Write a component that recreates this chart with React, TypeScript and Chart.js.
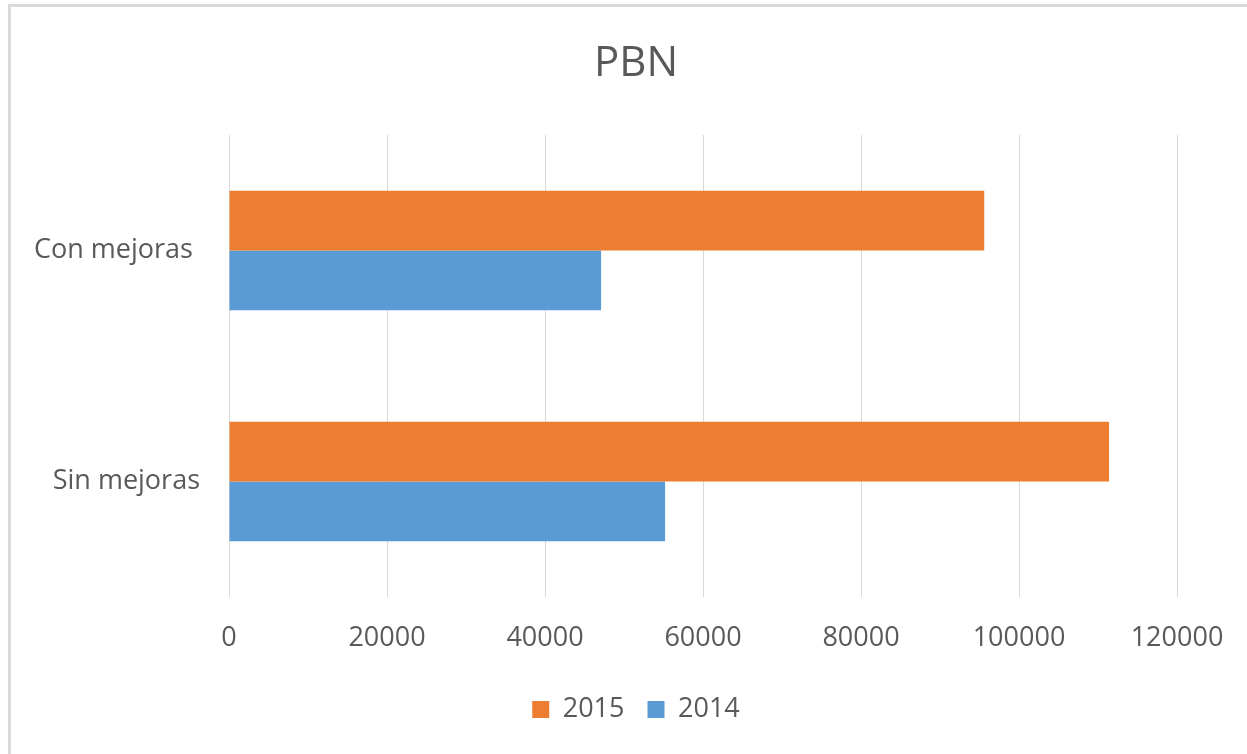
import React, { useEffect, useRef } from "react";
import { Chart, registerables } from "chart.js";

Chart.register(...registerables);

const categories = ["Con mejoras ", "Sin mejoras"];
const series2015 = [95600, 111400];
const series2014 = [47100, 55200];
const seriesNames = ["2015", "2014"];
const xTicks = [0, 20000, 40000, 60000, 80000, 100000, 120000];

const FONT = "'Open Sans', 'Segoe UI', sans-serif";
const TEXT = "#595959";
const GRID = "#d9d9d9";

export default function App() {
  const ref = useRef<HTMLCanvasElement | null>(null);

  useEffect(() => {
    if (!ref.current) return;
    const chart = new Chart(ref.current, {
      type: "bar",
      data: {
        labels: categories,
        datasets: [
          {
            label: seriesNames[0],
            data: series2015,
            backgroundColor: "#ED7D31",
            borderWidth: 0,
          },
          {
            label: seriesNames[1],
            data: series2014,
            backgroundColor: "#5B9BD5",
            borderWidth: 0,
          },
        ],
      },
      options: {
        indexAxis: "y",
        responsive: false,
        animation: false,
        datasets: {
          bar: { categoryPercentage: 0.518, barPercentage: 1 },
        },
        layout: { padding: { top: 12, right: 0, bottom: 21, left: 25 } },
        plugins: {
          title: {
            display: true,
            text: "PBN",
            color: TEXT,
            font: { family: FONT, size: 42, weight: "normal" },
            padding: { top: 27, bottom: 45.6 },
          },
          legend: {
            display: true,
            position: "bottom",
            labels: {
              color: TEXT,
              font: { family: FONT, size: 27 },
              boxWidth: 17,
              boxHeight: 17,
              padding: 23,
            },
          },
          tooltip: { enabled: false },
        },
        scales: {
          x: {
            min: 0,
            max: 120000,
            afterBuildTicks: (s: any) => {
              s.ticks = xTicks.map((v) => ({ value: v }));
            },
            afterFit: (s: any) => {
              s.height = 76;
              s.paddingRight = 70;
              s.paddingLeft = 0;
            },
            ticks: {
              color: TEXT,
              font: { family: FONT, size: 27 },
              padding: 25,
              maxRotation: 0,
              autoSkip: false,
              callback: (v: any) => String(v),
            },
            grid: { color: GRID, lineWidth: 1, drawTicks: false },
            border: { display: false },
          },
          y: {
            afterFit: (s: any) => {
              s.width = 204;
              s.paddingTop = 0;
              s.paddingBottom = 0;
            },
            ticks: {
              color: TEXT,
              font: { family: FONT, size: 27 },
              padding: 29,
            },
            grid: { display: false, drawTicks: false },
            border: { display: false },
          },
        },
      },
    });
    return () => chart.destroy();
  }, []);

  return (
    <div
      style={{
        position: "fixed",
        left: 0,
        top: 0,
        width: 1247,
        height: 754,
        overflow: "hidden",
        background: "#ffffff",
      }}
    >
      <div
        style={{
          position: "absolute",
          left: 8,
          top: 4,
          width: 1300,
          height: 800,
          borderLeft: "3px solid #d9d9d9",
          borderTop: "3px solid #d9d9d9",
        }}
      />
      <canvas
        ref={ref}
        width={1247}
        height={754}
        style={{ position: "absolute", left: 0, top: 0 }}
      />
    </div>
  );
}
